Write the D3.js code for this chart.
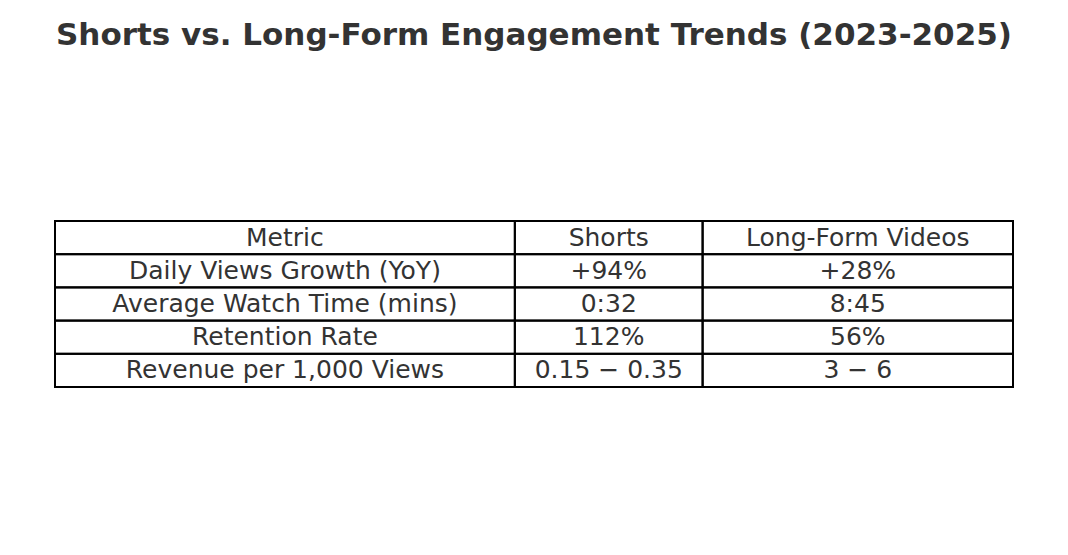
<!DOCTYPE html>
<html>
<head>
<meta charset="utf-8">
<script src="https://cdn.jsdelivr.net/npm/d3@7"></script>
<style>
  body { margin: 0; background: #fff; }
  text { font-family: "DejaVu Sans", sans-serif; fill: #333; }
</style>
</head>
<body>
<script>
var columns = ["Metric", "Shorts", "Long-Form Videos"];
var metrics = ["Daily Views Growth (YoY)", "Average Watch Time (mins)", "Retention Rate", "Revenue per 1,000 Views"];
var shorts = ["+94%", "0:32", "112%", "0.15 \u2212 0.35"];
var longForm = ["+28%", "8:45", "56%", "3 \u2212 6"];

var width = 1068, height = 555;

var svg = d3.select("body").append("svg")
    .attr("width", width)
    .attr("height", height);

svg.append("text")
    .attr("x", width / 2)
    .attr("y", 36)
    .attr("text-anchor", "middle")
    .attr("dominant-baseline", "middle")
    .style("font-size", "31px")
    .style("font-weight", "bold")
    .text("Shorts vs. Long-Form Engagement Trends (2023-2025)");

var rows = [columns].concat(metrics.map(function(m, i) { return [m, shorts[i], longForm[i]]; }));

// column edges as fractions of table width
var edges = [0, 0.48, 0.676, 1];
var x = d3.scaleLinear().domain([0, 1]).range([55, 1013]);
var y = d3.scaleBand().domain(d3.range(rows.length)).range([221, 387]);

var g = svg.append("g");

rows.forEach(function(row, r) {
  row.forEach(function(cell, c) {
    var x0 = x(edges[c]), x1 = x(edges[c + 1]);
    g.append("rect")
        .attr("x", x0)
        .attr("y", y(r))
        .attr("width", x1 - x0)
        .attr("height", y.bandwidth())
        .attr("fill", "none")
        .attr("stroke", "#000")
        .attr("stroke-width", 2);
    g.append("text")
        .attr("x", (x0 + x1) / 2)
        .attr("y", y(r) + y.bandwidth() / 2 + 1)
        .attr("text-anchor", "middle")
        .attr("dominant-baseline", "middle")
        .style("font-size", "25px")
        .text(cell);
  });
});
</script>
</body>
</html>
